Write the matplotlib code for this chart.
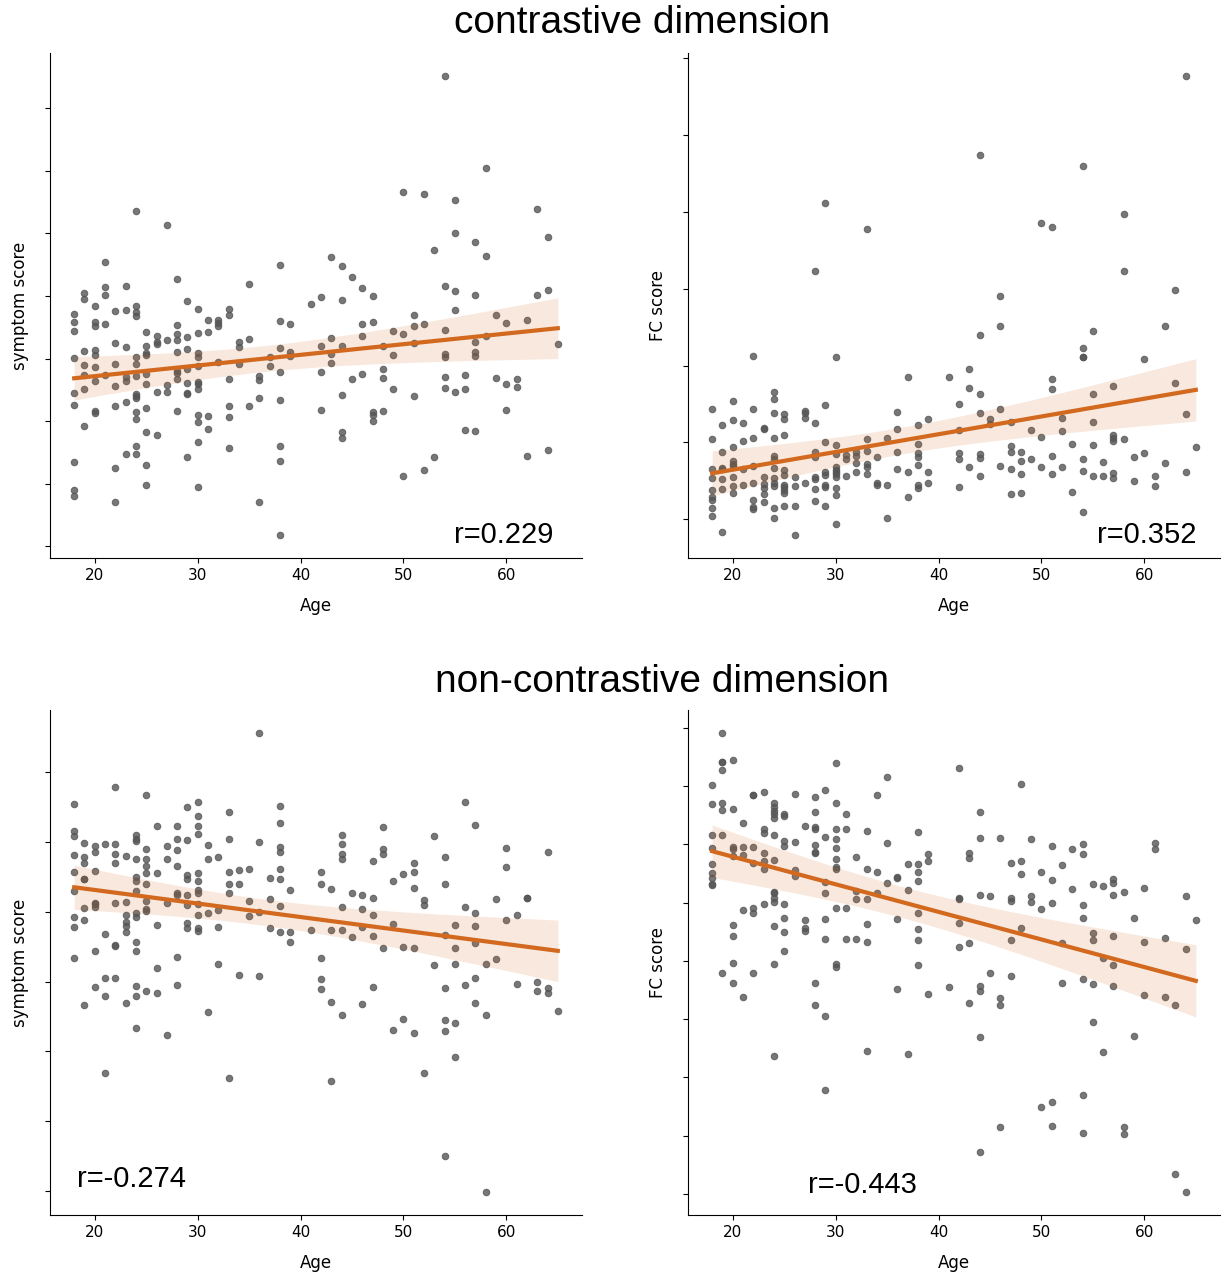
"""Age vs symptom / FC score, contrastive and non-contrastive dimension (2x2 regression grid)."""
import matplotlib

matplotlib.use("Agg")
import matplotlib.pyplot as plt
import numpy as np
from matplotlib.ticker import MultipleLocator

# scores on an arbitrary linear scale (the y axes carry no labels)
# one dict per panel: age -> scores of the subjects with that age

contrast_symptom = {
    18: [6.99, 6.74, 6.47, 5.66, 4.62, 4.25, 2.52, 1.70, 1.51],
    19: [7.61, 7.43, 5.87, 5.45, 5.16, 4.74, 3.63],
    20: [7.21, 6.74, 6.63, 5.89, 5.74, 5.40, 4.98, 4.06, 4.00],
    21: [8.55, 7.78, 7.56, 6.68, 5.16],
    22: [7.07, 6.11, 5.49, 4.81, 4.22, 2.36, 1.33],
    23: [7.82, 7.09, 5.98, 5.09, 4.97, 4.35, 2.78],
    24: [10.07, 7.23, 7.03, 6.91, 5.69, 5.49, 5.12, 4.59, 4.51, 4.45, 4.05, 3.83, 3.02, 2.77],
    25: [6.45, 6.02, 5.81, 5.76, 5.18, 4.89, 4.15, 3.44, 2.45, 1.83],
    26: [6.33, 6.13, 6.08, 4.64, 3.34],
    27: [9.66, 6.21, 4.86, 4.65],
    28: [8.02, 6.65, 6.37, 6.21, 5.85, 5.26, 5.20, 5.02, 4.08],
    29: [7.36, 6.28, 5.94, 5.33, 4.91, 4.61, 4.59, 2.68],
    30: [7.13, 6.40, 5.81, 5.68, 5.41, 4.94, 4.89, 4.72, 3.94, 3.73, 3.12, 1.78],
    31: [6.81, 6.45, 3.93, 3.52],
    32: [6.79, 6.71, 6.61, 5.53],
    33: [7.12, 6.94, 5.02, 4.22, 3.90, 2.96],
    34: [6.14, 5.98, 5.49],
    35: [7.87, 6.23, 4.23],
    36: [5.13, 4.99, 4.47, 1.33],
    37: [5.69, 5.41],
    38: [8.44, 6.76, 5.95, 5.25, 4.39, 3.00, 2.56, 0.34],
    39: [6.68, 5.83, 5.73],
    41: [7.27],
    42: [7.50, 6.02, 5.25, 4.10],
    43: [8.69, 6.25, 5.77, 5.52],
    44: [8.41, 7.39, 6.02, 4.55, 3.43, 3.25],
    45: [8.08, 5.02],
    46: [7.76, 6.68, 6.32, 5.18],
    47: [7.51, 6.74, 4.05, 3.95, 3.78],
    48: [6.02, 5.32, 5.07, 4.07],
    49: [6.48, 5.74, 4.72],
    50: [10.65, 6.37, 2.11],
    51: [6.96, 6.63, 6.11, 4.51],
    52: [10.58, 6.69, 2.28],
    53: [8.89, 2.69],
    54: [14.13, 7.81, 6.49, 5.78, 5.68, 5.10, 4.76],
    55: [10.39, 9.40, 7.68, 7.11, 4.64],
    56: [5.14, 4.74, 3.51],
    57: [9.13, 7.56, 6.13, 5.85, 5.71, 3.47],
    58: [11.36, 8.72, 6.33],
    59: [6.96, 5.05],
    60: [6.70, 4.88, 4.11],
    61: [5.03, 4.78],
    62: [6.80, 2.71],
    63: [10.13, 7.54],
    64: [9.30, 7.70, 2.88],
    65: [6.08],
}

contrast_fc = {
    18: [3.31, 2.42, 1.50, 1.24, 0.89, 0.68, 0.57, 0.35, 0.09],
    19: [2.84, 2.02, 1.54, 1.50, 1.22, 0.92, -0.37],
    20: [3.57, 2.99, 2.18, 1.76, 1.65, 1.59, 1.26, 0.99, 0.80],
    21: [2.89, 2.36, 1.51, 1.02],
    22: [4.91, 3.31, 2.45, 1.60, 1.09, 0.57, 0.37, 0.30],
    23: [2.74, 2.73, 1.27, 1.07, 0.93, 0.75, 0.51],
    24: [3.82, 3.63, 3.20, 2.44, 1.90, 1.82, 1.54, 1.25, 1.09, 1.01, 0.35, 0.04],
    25: [3.16, 3.03, 2.54, 1.48, 1.34, 1.02, 0.96, 0.88, 0.79, 0.40],
    26: [1.28, 1.01, 0.40, -0.47],
    27: [3.26, 3.20, 3.05, 1.09],
    28: [7.46, 2.89, 2.02, 1.87, 1.27, 1.20, 0.92, 0.54],
    29: [9.51, 3.43, 2.33, 1.42, 1.32, 1.04, 0.98, 0.40],
    30: [4.88, 2.22, 1.97, 1.56, 1.49, 1.42, 1.35, 1.28, 0.95, 0.73, -0.13],
    31: [1.92, 1.82, 1.29],
    32: [2.02, 1.90, 1.69, 1.41],
    33: [8.73, 2.42, 2.06, 1.65, 1.57, 1.35],
    34: [1.88, 1.10, 1.04],
    35: [2.43, 1.02, 0.03],
    36: [3.24, 2.71, 2.02, 1.52],
    37: [4.29, 1.42, 0.67],
    38: [2.83, 2.25, 1.99, 1.88, 1.63, 1.02, 0.95],
    39: [3.01, 1.41, 1.09],
    41: [4.27],
    42: [3.46, 2.68, 1.98, 1.81, 0.96],
    43: [4.51, 3.95, 1.57],
    44: [10.96, 5.54, 3.77, 3.19, 1.95, 1.83, 1.30],
    45: [3.02, 2.88],
    46: [6.72, 5.80, 3.32, 1.60],
    47: [2.92, 2.21, 2.02, 1.51, 0.76],
    48: [2.03, 1.75, 1.37, 0.78],
    49: [2.69, 1.81],
    50: [8.91, 2.49, 1.58],
    51: [8.79, 4.23, 3.92, 1.90, 1.35],
    52: [3.06, 2.67, 1.56],
    53: [2.27, 0.82],
    54: [10.63, 5.16, 4.88, 4.87, 1.81, 1.44, 0.21],
    55: [5.66, 3.78, 2.94, 2.22, 1.31],
    56: [1.72, 1.31],
    57: [4.02, 2.54, 2.44, 2.34, 1.39, 1.24],
    58: [9.16, 7.46, 2.42],
    59: [1.88, 1.16],
    60: [4.82, 1.98],
    61: [1.31, 1.01],
    62: [5.80, 1.69],
    63: [6.89, 4.11],
    64: [13.32, 3.18, 1.41],
    65: [2.17],
}

noncontrast_symptom = {
    18: [11.63, 10.80, 10.65, 10.08, 9.59, 9.01, 8.24, 7.93, 7.00],
    19: [10.44, 10.04, 9.85, 9.37, 9.36, 8.51, 8.14, 5.58],
    20: [10.36, 10.17, 9.60, 8.66, 8.61, 8.53, 7.20, 6.14],
    21: [10.42, 7.73, 6.40, 5.86, 3.54],
    22: [12.14, 10.42, 10.11, 9.84, 8.65, 7.38, 7.35, 6.39],
    23: [10.05, 8.69, 8.30, 8.09, 7.95, 7.79, 5.66],
    24: [10.68, 10.56, 10.50, 9.96, 9.44, 9.30, 9.00, 8.36, 8.24, 7.48, 7.21, 6.16, 5.87, 4.89],
    25: [11.90, 10.27, 9.96, 9.77, 9.54, 9.21, 8.71, 8.47, 8.41, 6.00],
    26: [10.97, 9.54, 7.99, 6.69, 5.95],
    27: [10.35, 9.97, 8.65, 4.69],
    28: [10.98, 10.56, 10.24, 9.76, 8.96, 8.88, 7.02, 6.18],
    29: [11.55, 10.55, 9.49, 9.37, 8.88, 8.58, 8.04, 7.90],
    30: [11.70, 11.26, 10.96, 10.71, 9.56, 9.32, 9.03, 8.96, 8.61, 8.29, 7.90, 7.80],
    31: [10.38, 9.98, 8.34, 5.38],
    32: [10.04, 8.45, 7.93, 6.81],
    33: [11.40, 10.57, 9.57, 9.22, 8.96, 3.40],
    34: [9.64, 9.21, 6.49],
    35: [9.68, 8.71, 8.27],
    36: [13.76, 10.47, 8.37, 6.47],
    37: [9.41, 8.77, 7.89],
    38: [11.57, 11.05, 10.33, 10.17, 9.66, 9.38, 8.57, 7.79],
    39: [9.03, 7.77, 7.47],
    41: [7.83],
    42: [9.59, 9.22, 7.00, 6.36, 6.06],
    43: [9.08, 7.83, 5.68, 3.30],
    44: [10.69, 10.41, 10.11, 9.96, 8.52, 7.85, 5.28],
    45: [8.95, 7.63],
    46: [8.90, 8.46, 7.92, 5.61],
    47: [9.90, 8.79, 8.29, 7.65, 6.13],
    48: [10.94, 10.27, 10.11, 7.31],
    49: [9.32, 8.01, 4.84],
    50: [9.52, 7.34, 5.16],
    51: [9.86, 9.58, 9.09, 7.29, 4.76],
    52: [8.73, 8.58, 3.56],
    53: [10.66, 6.78],
    54: [10.03, 9.21, 7.69, 6.09, 5.14, 4.81, 1.06],
    55: [7.98, 7.30, 6.81, 5.05, 4.03],
    56: [11.69, 8.52, 6.18],
    57: [10.99, 8.36, 7.96, 7.46, 6.41, 5.65],
    58: [6.83, 5.30, -0.03],
    59: [8.78, 6.97],
    60: [10.30, 9.73, 8.13],
    61: [8.28, 6.23],
    62: [8.81, 8.80],
    63: [6.28, 6.00],
    64: [10.19, 6.10, 5.94],
    65: [5.41],
}

noncontrast_fc = {
    18: [12.29, 11.72, 10.77, 10.40, 9.90, 9.65, 9.50, 9.30, 9.27],
    19: [13.85, 12.99, 12.98, 12.75, 11.75, 11.55, 10.77, 6.65],
    20: [13.05, 11.57, 10.42, 10.37, 10.15, 8.09, 7.75, 6.95, 6.33],
    21: [11.14, 10.43, 10.17, 8.54, 5.91],
    22: [11.99, 11.98, 10.43, 9.94, 8.60, 8.43, 6.65],
    23: [12.09, 10.97, 10.84, 10.23, 9.99, 9.77, 8.72],
    24: [11.75, 11.62, 11.52, 11.42, 11.30, 10.78, 10.02, 9.08, 9.05, 8.89, 8.77, 8.06, 6.92, 4.15],
    25: [11.43, 11.37, 10.61, 10.44, 8.72, 8.28, 7.88, 7.31],
    26: [12.01, 10.56, 9.73, 9.56],
    27: [11.07, 8.23, 7.99, 7.90],
    28: [11.93, 11.49, 11.02, 10.97, 10.49, 10.27, 10.25, 6.33, 5.68],
    29: [12.14, 10.72, 9.38, 9.03, 8.27, 7.67, 5.34, 3.14],
    30: [12.94, 11.74, 10.97, 10.65, 10.38, 10.07, 9.82, 9.75, 8.58, 6.91, 6.81],
    31: [11.41, 10.97, 8.60, 7.65],
    32: [10.11, 9.09, 8.85, 7.65],
    33: [10.90, 9.76, 8.85, 8.11, 7.57, 4.30],
    34: [12.00, 9.68, 9.04],
    35: [12.54, 10.54, 9.33],
    36: [9.52, 9.50, 8.27, 6.15],
    37: [9.92, 9.14, 4.20],
    38: [10.86, 9.90, 9.66, 9.40, 8.43, 7.97, 7.63, 6.87],
    39: [10.20, 10.00, 6.00],
    41: [6.22],
    42: [12.79, 8.89, 8.87, 8.13, 7.42],
    43: [10.23, 10.08, 7.55, 5.73],
    44: [11.49, 10.70, 8.99, 6.25, 6.10, 4.73, 1.27],
    45: [8.96, 6.64],
    46: [10.68, 5.89, 5.68, 2.00],
    47: [9.94, 8.88, 8.80, 7.63, 6.56],
    48: [12.33, 10.00, 9.62, 7.98],
    49: [10.65, 8.95, 8.76],
    50: [9.68, 8.56, 2.62],
    51: [10.46, 9.44, 8.75, 2.76, 2.04],
    52: [9.89, 7.55, 6.35],
    53: [10.37, 9.16],
    54: [10.51, 10.21, 8.67, 8.28, 6.45, 2.96, 1.83],
    55: [9.30, 7.84, 7.63, 6.32, 5.17],
    56: [9.25, 7.09, 4.27],
    57: [9.45, 9.34, 8.97, 7.74, 6.87, 6.25],
    58: [9.08, 2.00, 1.79],
    59: [8.30, 4.74],
    60: [9.20, 7.57, 5.97],
    61: [10.55, 10.36],
    62: [7.68, 5.91],
    63: [5.68, 0.61],
    64: [8.95, 7.36, 0.06],
    65: [8.24],
}

# (data, y label, tick step on the score scale, r shown in the corner)
PANELS = [
    (contrast_symptom, "symptom score", 1.88, "r=0.229"),
    (contrast_fc, "FC score", 2.31, "r=0.352"),
    (noncontrast_symptom, "symptom score", 2.097, "r=-0.274"),
    (noncontrast_fc, "FC score", 1.751, "r=-0.443"),
]
TITLES = ["contrastive dimension", "non-contrastive dimension"]

POINT = "#555555"
LINE = "#d2691e"
SANS = ["Liberation Sans", "DejaVu Sans"]
BAND_Z = 3.1  # half-width of the shaded band, in standard errors of the fit

W, H = 1222, 1276
# axes boxes in pixels (left, top, width, height)
BOXES = [(50, 53, 532, 505), (688, 53, 532, 505), (50, 710, 532, 505), (688, 710, 532, 505)]
R_POS = [(0.947, 0.03, "right"), (0.955, 0.03, "right"), (0.05, 0.055, "left"), (0.225, 0.044, "left")]


def expand(table):
    ages = np.array([a for a, vals in table.items() for _ in vals], dtype=float)
    scores = np.array([v for vals in table.values() for v in vals])
    return ages, scores


def fit_band(x, y):
    """OLS line with a confidence band over the data range."""
    b, a = np.polyfit(x, y, 1)
    n = len(x)
    resid = y - (a + b * x)
    s = np.sqrt(np.sum(resid**2) / (n - 2))
    grid = np.linspace(x.min(), x.max(), 100)
    se = s * np.sqrt(1 / n + (grid - x.mean()) ** 2 / np.sum((x - x.mean()) ** 2))
    yhat = a + b * grid
    return grid, yhat, yhat - BAND_Z * se, yhat + BAND_Z * se


plt.rcParams.update({"axes.labelsize": 12, "xtick.labelsize": 11, "ytick.labelsize": 11})
fig = plt.figure(figsize=(W / 100, H / 100), dpi=100)

for (table, ylabel, step, rtext), (l, t, w, h), (rx, ry, ha) in zip(PANELS, BOXES, R_POS):
    ax = fig.add_axes([l / W, 1 - (t + h) / H, w / W, h / H])
    x, y = expand(table)
    ax.scatter(x, y, s=22, color=POINT, alpha=0.8, linewidths=0.75, zorder=2)
    grid, yhat, lo, hi = fit_band(x, y)
    ax.plot(grid, yhat, color=LINE, lw=3, zorder=3)
    ax.fill_between(grid, lo, hi, color=LINE, alpha=0.15, lw=0, zorder=3)
    ax.yaxis.set_major_locator(MultipleLocator(step))
    ax.set_yticklabels([])
    ax.set_xticks([20, 30, 40, 50, 60])
    ax.set_xlabel("Age", labelpad=10)
    ax.set_ylabel(ylabel)
    ax.yaxis.set_label_coords(-0.04, 0.5)
    for side in ("top", "right"):
        ax.spines[side].set_visible(False)
    ax.text(rx, ry, rtext, transform=ax.transAxes, ha=ha, va="baseline",
            fontsize=21, family=SANS)

fig.text(642 / W, 1 - 23 / H, TITLES[0], ha="center", va="center", fontsize=28, family=SANS)
fig.text(662 / W, 1 - 682 / H, TITLES[1], ha="center", va="center", fontsize=28, family=SANS)

fig.savefig("out.png", dpi=100)
